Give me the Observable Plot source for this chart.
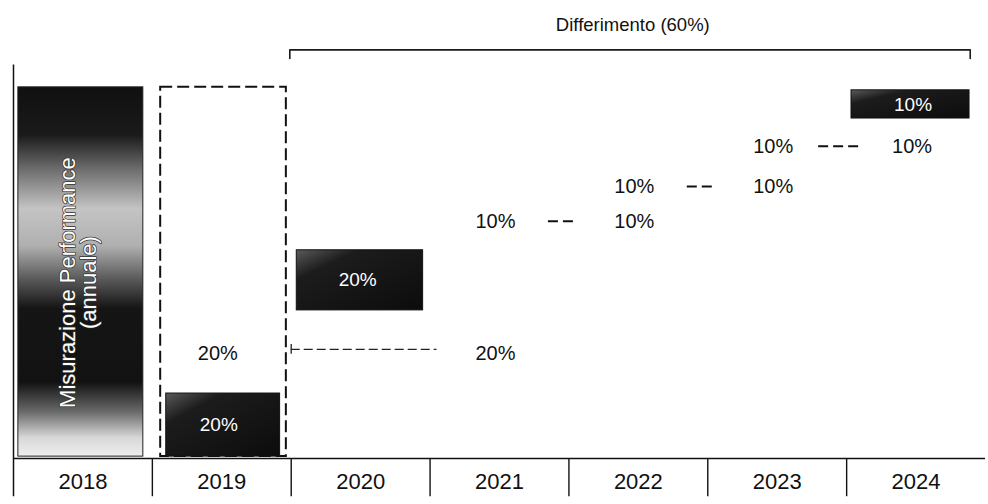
<!DOCTYPE html>
<html><head><meta charset="utf-8">
<script src="https://cdn.jsdelivr.net/npm/d3@7"></script>
<script src="https://cdn.jsdelivr.net/npm/@observablehq/plot@0.6"></script>
<style>
html,body{margin:0;padding:0;background:#fff;}
#chart svg{display:block;}
</style></head><body><div id="chart"></div>
<script>
// ---- data ----
const years = [2018, 2019, 2020, 2021, 2022, 2023, 2024];
const yearLabels = ["2018", "2019", "2020", "2021", "2022", "2023", "2024"];
const measureYear = 2018;
const measureLabel = "Misurazione Performance\n(annuale)";
const upfrontYear = 2019;
const payYears = [2019, 2020, 2024];
const payLow = [0.5, 39.9, 91.6];
const payHigh = [17.5, 56.1, 99.2];
const payLabels = ["20%", "20%", "10%"];
const tagYears = [2019, 2021, 2021, 2022, 2022, 2023, 2023, 2024];
const tagLevels = [28.3, 28.3, 63.9, 63.9, 73.3, 73.3, 84.1, 84.1];
const tagLabels = ["20%", "20%", "10%", "10%", "10%", "10%", "10%", "10%"];
const linkFrom = [2021, 2022, 2023];
const linkTo = [2022, 2023, 2024];
const linkLevel = [63.9, 73.3, 84.1];
const linkDashes = [2, 2, 3];
const carryFrom = 2019, carryTo = 2020, carryLevel = 29.4;
const bracketLabel = "Differimento (60%)";
const bracketFrom = 2020, bracketTo = 2024;

// ---- layout (box insets within each column, not data) ----
const boxInset = {2019: [0.40, 0.42], 2020: [0.46, 0.45], 2024: [0.465, 0.385]};

// ---- derived tables ----
const pays = payYears.map((y, i) => ({year: y, lo: payLow[i], hi: payHigh[i], label: payLabels[i]}));
const tags = tagYears.map((y, i) => ({year: y, level: tagLevels[i], label: tagLabels[i]}));
const pxU = 1 / 138.86; // one pixel in x units
const links = linkFrom.map((f, i) => {
  const mid = (f + linkTo[i]) / 2 - 8 * pxU;
  const half = (linkDashes[i] === 2 ? 12.5 : 20) * pxU;
  return {x1: mid - half, x2: mid + half, level: linkLevel[i]};
});
const font = "Liberation Sans, Arial, Helvetica, sans-serif";

const chart = Plot.plot({
  width: 988, height: 504,
  marginTop: 0, marginBottom: 0, marginLeft: 13, marginRight: 3,
  x: {type: "linear", domain: [2017.5, 2024.5], axis: null},
  y: {domain: [-12.4, 123.4], axis: null},
  style: {fontFamily: font, background: "#fff"},
  marks: [
    // measurement bar 2018
    Plot.rect([measureYear], {x1: d => d - 0.465, x2: d => d + 0.435, y1: 0.5, y2: 100, fill: "url(#g2018)", stroke: "#222", strokeWidth: 1}),
    Plot.text([measureLabel], {x: measureYear, y: 47.4, text: d => d, rotate: -90, dx: -4, fill: "#fff", stroke: "#333", strokeWidth: 1.5, paintOrder: "stroke", fontSize: 22, lineHeight: 0.95, fontFamily: font}),
    // dashed upfront box 2019
    Plot.rect([upfrontYear], {x1: d => d - 0.44, x2: d => d + 0.465, y1: 0.5, y2: 100, fill: "none", stroke: "#111", strokeWidth: 2, strokeDasharray: "12,5"}),
    // dark payout boxes
    Plot.rect(pays, {x1: d => d.year - boxInset[d.year][0], x2: d => d.year + boxInset[d.year][1], y1: "lo", y2: "hi", fill: "url(#gbox)", stroke: "#111", strokeWidth: 1}),
    Plot.text(pays, {x: "year", y: d => (d.lo + d.hi) / 2, text: "label", fill: "#fff", fontSize: 19, dx: -3, fontFamily: font}),
    // plain percentages
    Plot.text(tags, {x: "year", y: "level", text: "label", fill: "#111", fontSize: 20, dx: -4, fontFamily: font}),
    // dash connectors
    Plot.ruleY(links, {x1: "x1", x2: "x2", y: "level", stroke: "#111", strokeWidth: 2, strokeDasharray: "10,5"}),
    // carried dashed line
    Plot.ruleY([carryLevel], {x1: carryFrom + 0.5, x2: carryTo + 0.55, stroke: "#222", strokeWidth: 1.3, strokeDasharray: "9,4"}),
    Plot.ruleX([carryFrom + 0.5], {y1: carryLevel - 1.3, y2: carryLevel + 1.3, stroke: "#222", strokeWidth: 1.3}),
    // bracket
    Plot.line([[bracketFrom - 0.51, 107.8], [bracketFrom - 0.51, 110.1], [bracketTo + 0.39, 110.1], [bracketTo + 0.39, 107.8]], {stroke: "#1a1a1a", strokeWidth: 1.6}),
    Plot.text([bracketLabel], {x: (bracketFrom + bracketTo) / 2 - 0.04, y: 116.7, text: d => d, fontSize: 18.5, fill: "#111", fontFamily: font}),
    // axis
    Plot.ruleY([0], {x1: 2017.5, x2: 2024.5, stroke: "#111", strokeWidth: 1.6}),
    Plot.ruleX([2017.5], {y1: -10.3, y2: 106, stroke: "#111", strokeWidth: 1.5}),
    Plot.ruleX(years.slice(0, -1), {x: d => d + 0.5, y1: -10.3, y2: 0, stroke: "#111", strokeWidth: 1.4}),
    Plot.text(years, {x: d => d, y: -6.2, text: (d, i) => yearLabels[i], fontSize: 22, fill: "#111", fontFamily: font})
  ]
});

// gradient definitions for the textured bars
const defs = d3.create("svg:defs");
const g = defs.append("linearGradient").attr("id", "g2018").attr("x1", 0).attr("y1", 0).attr("x2", 0).attr("y2", 1);
[[0, "#101010"], [0.13, "#1a1a1a"], [0.22, "#6a6a6a"], [0.33, "#c4c4c4"], [0.43, "#b0b0b0"], [0.52, "#5a5a5a"], [0.6, "#151515"], [0.8, "#121212"], [0.88, "#6a6a6a"], [0.95, "#d8d8d8"], [1, "#eeeeee"]]
  .forEach(([o, c]) => g.append("stop").attr("offset", o).attr("stop-color", c));
const gb = defs.append("linearGradient").attr("id", "gbox").attr("x1", 0).attr("y1", 0).attr("x2", 1).attr("y2", 1);
[[0, "#5a5a5a"], [0.25, "#1c1c1c"], [1, "#0c0c0c"]]
  .forEach(([o, c]) => gb.append("stop").attr("offset", o).attr("stop-color", c));
chart.insertBefore(defs.node(), chart.firstChild);

document.getElementById("chart").appendChild(chart);
</script>
</body></html>
